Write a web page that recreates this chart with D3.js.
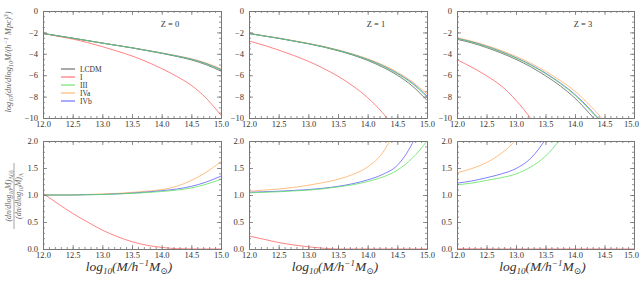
<!DOCTYPE html>
<html><head><meta charset="utf-8">
<script src="https://cdn.jsdelivr.net/npm/d3@7"></script>
<style>body{margin:0;background:#fff}svg{display:block}</style>
</head><body><svg id="c" width="640" height="281"></svg>
<script>
// ---- data ----
const mass = [12, 12.25, 12.5, 12.75, 13, 13.25, 13.5, 13.75, 14, 14.25, 14.5, 14.75, 15];
const seriesNames = ["LCDM", "I", "III", "IVa", "IVb"];
const seriesColors = ["#555555", "#ff5a5a", "#55e055", "#ffaa55", "#5555ff"];
const redshifts = ["Z = 0", "Z = 1", "Z = 3"];

// top: log10 mass function
const mfZ0_LCDM = [-2.1, -2.32, -2.54, -2.77, -3.0, -3.22, -3.45, -3.7, -3.96, -4.24, -4.57, -5.02, -5.62];
const mfZ0_I    = [-2.1, -2.36, -2.62, -2.95, -3.33, -3.75, -4.2, -4.75, -5.38, -6.1, -6.95, -8.15, -9.75];
const mfZ0_III  = [-2.1, -2.32, -2.54, -2.77, -3.0, -3.22, -3.44, -3.69, -3.94, -4.21, -4.52, -4.95, -5.52];
const mfZ0_IVa  = [-2.1, -2.32, -2.54, -2.77, -2.99, -3.21, -3.43, -3.67, -3.91, -4.17, -4.46, -4.86, -5.4];
const mfZ0_IVb  = [-2.1, -2.32, -2.54, -2.77, -3.0, -3.22, -3.44, -3.68, -3.93, -4.2, -4.5, -4.92, -5.48];

const mfZ1_LCDM = [-2.1, -2.33, -2.55, -2.8, -3.06, -3.36, -3.71, -4.12, -4.62, -5.24, -6.0, -7.0, -8.35];
const mfZ1_I    = [-2.8, -3.2, -3.65, -4.15, -4.7, -5.35, -6.1, -7.0, -8.1, -9.5, -11.2, -13.2, -15.5];
const mfZ1_III  = [-2.1, -2.33, -2.55, -2.8, -3.05, -3.34, -3.68, -4.08, -4.55, -5.14, -5.87, -6.8, -8.05];
const mfZ1_IVa  = [-2.08, -2.31, -2.53, -2.77, -3.02, -3.3, -3.63, -4.02, -4.46, -5.02, -5.72, -6.6, -7.75];
const mfZ1_IVb  = [-2.1, -2.33, -2.55, -2.8, -3.05, -3.33, -3.67, -4.06, -4.53, -5.1, -5.82, -6.72, -7.95];

const mfZ3_LCDM = [-2.65, -2.98, -3.42, -3.93, -4.52, -5.22, -6.05, -7.0, -8.15, -9.6, -11.2, -13.0, -15.0];
const mfZ3_I    = [-4.55, -5.25, -6.05, -7.0, -8.35, -10.05, -12.25, -14.8, -17.5, -20.5, -23.5, -26.5, -29.5];
const mfZ3_III  = [-2.58, -2.9, -3.33, -3.82, -4.4, -5.06, -5.86, -6.78, -7.88, -9.25, -10.8, -12.5, -14.5];
const mfZ3_IVa  = [-2.5, -2.82, -3.22, -3.7, -4.24, -4.88, -5.63, -6.5, -7.5, -8.8, -10.3, -12.0, -14.0];
const mfZ3_IVb  = [-2.56, -2.88, -3.3, -3.79, -4.36, -5.02, -5.8, -6.72, -7.8, -9.15, -10.7, -12.4, -14.4];

// bottom: ratio to LCDM
const rZ0_I   = [1.03, 0.84, 0.66, 0.5, 0.35, 0.23, 0.135, 0.07, 0.03, 0.006, 0.0, 0.0, 0.0];
const rZ0_III = [1.0, 1.0, 1.0, 1.005, 1.01, 1.02, 1.03, 1.045, 1.065, 1.09, 1.13, 1.2, 1.29];
const rZ0_IVa = [1.0, 1.0, 1.0, 1.01, 1.02, 1.03, 1.05, 1.07, 1.1, 1.16, 1.27, 1.42, 1.62];
const rZ0_IVb = [1.0, 1.0, 1.0, 1.005, 1.01, 1.02, 1.035, 1.055, 1.08, 1.11, 1.16, 1.24, 1.35];

const rZ1_I   = [0.24, 0.18, 0.12, 0.075, 0.04, 0.014, 0.0, 0.0, 0.0, 0.0, 0.0, 0.0, 0.0];
const rZ1_III = [1.04, 1.05, 1.06, 1.075, 1.09, 1.115, 1.15, 1.19, 1.25, 1.33, 1.46, 1.68, 2.0];
const rZ1_IVa = [1.07, 1.09, 1.11, 1.14, 1.18, 1.23, 1.29, 1.38, 1.52, 1.78, 2.3, 3.1, 4.0];
const rZ1_IVb = [1.05, 1.06, 1.07, 1.085, 1.1, 1.125, 1.16, 1.21, 1.28, 1.38, 1.55, 1.95, 2.6];

const rZ3_I   = [0.004, 0.002, 0.001, 0.0, 0.0, 0.0, 0.0, 0.0, 0.0, 0.0, 0.0, 0.0, 0.0];
const rZ3_III = [1.19, 1.22, 1.27, 1.32, 1.39, 1.52, 1.72, 2.05, 2.6, 3.2, 4.0, 5.0, 6.0];
const rZ3_IVa = [1.41, 1.49, 1.6, 1.77, 2.02, 2.4, 2.9, 3.5, 4.2, 5.0, 6.0, 7.0, 8.0];
const rZ3_IVb = [1.22, 1.26, 1.32, 1.39, 1.49, 1.68, 2.03, 2.5, 3.1, 3.8, 4.6, 5.5, 6.5];

const xTicks = [12.0, 12.5, 13.0, 13.5, 14.0, 14.5, 15.0];
const yTicksTop = [0, -2, -4, -6, -8, -10];
const yTicksBot = [0.0, 0.5, 1.0, 1.5, 2.0];

// [series index, values] in drawing order
const topSets = [
  [[0, mfZ0_LCDM], [1, mfZ0_I], [3, mfZ0_IVa], [4, mfZ0_IVb], [2, mfZ0_III]],
  [[0, mfZ1_LCDM], [1, mfZ1_I], [3, mfZ1_IVa], [4, mfZ1_IVb], [2, mfZ1_III]],
  [[0, mfZ3_LCDM], [1, mfZ3_I], [3, mfZ3_IVa], [4, mfZ3_IVb], [2, mfZ3_III]]
];
const botSets = [
  [[1, rZ0_I], [3, rZ0_IVa], [4, rZ0_IVb], [2, rZ0_III]],
  [[1, rZ1_I], [3, rZ1_IVa], [4, rZ1_IVb], [2, rZ1_III]],
  [[1, rZ3_I], [3, rZ3_IVa], [4, rZ3_IVb], [2, rZ3_III]]
];

// ---- layout ----
const svg = d3.select("#c");
const lefts = [43, 249, 457];
const pw = 178;
const rows = [{top: 11, h: 107, dom: [-10, 0], ticks: yTicksTop, minorStep: 0.5, fmt: d => d === 0 ? "0" : "\u2212" + Math.abs(d)},
              {top: 141, h: 108, dom: [0, 2], ticks: yTicksBot, minorStep: 0.1, fmt: d => d.toFixed(1)}];
const serif = "'Liberation Serif', 'DejaVu Serif', serif";
const frameCol = "#777";
const textCol = "#333";

function range(a, b, s) { const r = []; for (let v = a; v <= b + 1e-9; v += s) r.push(+v.toFixed(4)); return r; }

let clipId = 0;
function panel(left, row, pairs, isTop, pi) {
  const right = Math.min(left + pw, 634);
  const x = d3.scaleLinear().domain([12, 15]).range([left, right]);
  const y = d3.scaleLinear().domain(row.dom).range([row.top + row.h, row.top]);
  const g = svg.append("g");
  const id = "clip" + (clipId++);
  g.append("clipPath").attr("id", id).append("rect")
    .attr("x", left).attr("y", row.top).attr("width", right - left).attr("height", row.h);

  const line = d3.line().x((d, i) => x(mass[i])).y(d => y(d)).curve(d3.curveMonotoneX);
  const lg = g.append("g").attr("clip-path", `url(#${id})`);
  pairs.forEach(([k, arr]) => {
    lg.append("path").attr("d", line(arr)).attr("fill", "none")
      .attr("stroke", seriesColors[k]).attr("stroke-width", 0.75);
  });

  const xMinor = range(12, 15, 0.1);
  const yMinor = range(row.dom[0], row.dom[1], row.minorStep);
  const styleAxis = sel => {
    sel.selectAll(".domain").attr("stroke", frameCol).attr("stroke-width", 1);
    sel.selectAll(".tick line").attr("stroke", frameCol).attr("stroke-width", 0.8);
    sel.selectAll("text").attr("font-family", serif).attr("font-size", 8.5).attr("fill", textCol);
  };
  // bottom
  g.append("g").attr("transform", `translate(0,${row.top + row.h})`)
    .call(d3.axisBottom(x).tickValues(xMinor).tickSize(-2).tickFormat("").tickSizeOuter(0)).call(styleAxis);
  const bx = g.append("g").attr("transform", `translate(0,${row.top + row.h})`)
    .call(d3.axisBottom(x).tickValues(xTicks).tickSize(-4).tickSizeOuter(0).tickPadding(3).tickFormat(d3.format(".1f"))).call(styleAxis);
  if (pi === 2) bx.selectAll(".tick text").filter(d => d === 15).attr("dx", -3);
  // top
  g.append("g").attr("transform", `translate(0,${row.top})`)
    .call(d3.axisTop(x).tickValues(xMinor).tickSize(-2).tickFormat("").tickSizeOuter(0)).call(styleAxis);
  g.append("g").attr("transform", `translate(0,${row.top})`)
    .call(d3.axisTop(x).tickValues(xTicks).tickSize(-4).tickFormat("").tickSizeOuter(0)).call(styleAxis);
  // left
  g.append("g").attr("transform", `translate(${left},0)`)
    .call(d3.axisLeft(y).tickValues(yMinor).tickSize(-2).tickFormat("").tickSizeOuter(0)).call(styleAxis);
  g.append("g").attr("transform", `translate(${left},0)`)
    .call(d3.axisLeft(y).tickValues(row.ticks).tickSize(-4).tickSizeOuter(0).tickPadding(5).tickFormat(row.fmt)).call(styleAxis);
  // right
  g.append("g").attr("transform", `translate(${right},0)`)
    .call(d3.axisRight(y).tickValues(yMinor).tickSize(-2).tickFormat("").tickSizeOuter(0)).call(styleAxis);
  g.append("g").attr("transform", `translate(${right},0)`)
    .call(d3.axisRight(y).tickValues(row.ticks).tickSize(-4).tickFormat("").tickSizeOuter(0)).call(styleAxis);

  if (isTop) {
    g.append("text").attr("x", right - 51).attr("y", row.top + 16)
      .attr("font-family", serif).attr("font-size", 8.5).attr("fill", textCol)
      .attr("text-anchor", "middle").text(redshifts[pi]);
  } else {
    const t = g.append("text").attr("x", (left + right) / 2 - 3).attr("y", 271)
      .attr("font-family", serif).attr("font-style", "italic").attr("font-size", 13.5)
      .attr("fill", textCol).attr("text-anchor", "middle");
    t.append("tspan").text("log");
    t.append("tspan").attr("font-size", 9).attr("dy", 3).text("10");
    t.append("tspan").attr("dy", -3).text("(M/h");
    t.append("tspan").attr("font-size", 9).attr("dy", -5).text("\u22121");
    t.append("tspan").attr("dy", 5).text("M");
    t.append("tspan").attr("font-size", 9).attr("dy", 3).attr("font-style", "normal").text("\u2299");
    t.append("tspan").attr("dy", -3).text(")");
  }
}

lefts.forEach((l, i) => panel(l, rows[0], topSets[i], true, i));
lefts.forEach((l, i) => panel(l, rows[1], botSets[i], false, i));

// legend
const leg = svg.append("g");
seriesNames.forEach((n, i) => {
  const yy = 69 + i * 8;
  leg.append("line").attr("x1", 61).attr("x2", 75).attr("y1", yy).attr("y2", yy)
    .attr("stroke", seriesColors[i]).attr("stroke-width", 1);
  leg.append("text").attr("x", 80).attr("y", yy + 2.5).attr("font-family", serif)
    .attr("font-size", 7.5).attr("fill", textCol).text(n);
});

// y labels
const yl1 = svg.append("text").attr("transform", "translate(11,62) rotate(-90)")
  .attr("font-family", serif).attr("font-style", "italic").attr("font-size", 8.5)
  .attr("fill", "#666").attr("text-anchor", "middle");
yl1.append("tspan").text("log");
yl1.append("tspan").attr("font-size", 6).attr("dy", 2).text("10");
yl1.append("tspan").attr("dy", -2).text("(dn/dlog");
yl1.append("tspan").attr("font-size", 6).attr("dy", 2).text("10");
yl1.append("tspan").attr("dy", -2).text("M/(h");
yl1.append("tspan").attr("font-size", 6).attr("dy", -3.5).text("\u22121");
yl1.append("tspan").attr("dy", 3.5).text(" Mpc)");
yl1.append("tspan").attr("font-size", 6).attr("dy", -3.5).text("3");
yl1.append("tspan").attr("dy", 3.5).text(")");

const num = svg.append("text").attr("transform", "translate(11,196) rotate(-90)")
  .attr("font-family", serif).attr("font-style", "italic").attr("font-size", 8)
  .attr("fill", "#666").attr("text-anchor", "middle");
num.append("tspan").text("(dn/dlog");
num.append("tspan").attr("font-size", 5.5).attr("dy", 1.5).text("10");
num.append("tspan").attr("dy", -1.5).text("M)");
num.append("tspan").attr("font-size", 5.5).attr("dy", 1.5).attr("font-style", "normal").text("\u039B(i)");
const den = svg.append("text").attr("transform", "translate(21,196) rotate(-90)")
  .attr("font-family", serif).attr("font-style", "italic").attr("font-size", 8)
  .attr("fill", "#666").attr("text-anchor", "middle");
den.append("tspan").text("(dn/dlog");
den.append("tspan").attr("font-size", 5.5).attr("dy", 1.5).text("10");
den.append("tspan").attr("dy", -1.5).text("M)");
den.append("tspan").attr("font-size", 5.5).attr("dy", 1.5).attr("font-style", "normal").text("\u039B");
svg.append("line").attr("x1", 14).attr("x2", 14).attr("y1", 163).attr("y2", 229)
  .attr("stroke", "#666").attr("stroke-width", 0.6);
</script></body></html>
